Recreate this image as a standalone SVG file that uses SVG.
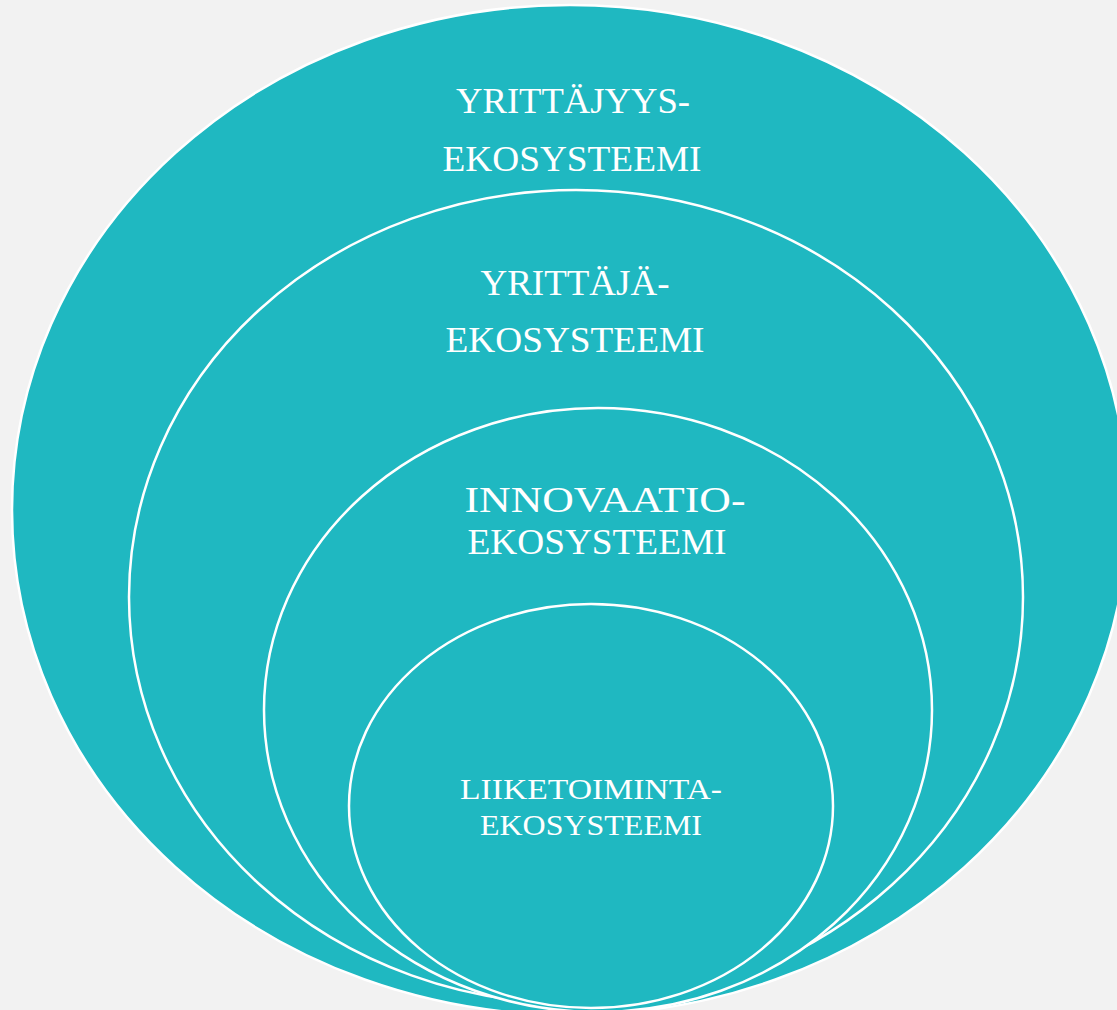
<svg xmlns="http://www.w3.org/2000/svg" width="1117" height="1010" viewBox="0 0 1117 1010">
<style>
.e{fill:#1fb8c1;stroke:#ffffff;stroke-width:2.5}
.t{fill:#ffffff;font-family:"Liberation Serif","DejaVu Serif",serif;text-anchor:middle}
.l{font-size:36px}
.s{font-size:30px}
</style>
<rect width="1117" height="1010" fill="#f2f2f2"/>
<g id="yrittajyys">
<ellipse class="e" cx="570" cy="510" rx="558" ry="505"/>
<text class="t l" x="573" y="113" textLength="234" lengthAdjust="spacingAndGlyphs">YRITTÄJYYS-</text>
<text class="t l" x="572" y="171" textLength="259" lengthAdjust="spacingAndGlyphs">EKOSYSTEEMI</text>
</g>
<g id="yrittaja">
<ellipse class="e" cx="576" cy="597" rx="447" ry="407"/>
<text class="t l" x="575" y="295" textLength="189" lengthAdjust="spacingAndGlyphs">YRITTÄJÄ-</text>
<text class="t l" x="575" y="352" textLength="259" lengthAdjust="spacingAndGlyphs">EKOSYSTEEMI</text>
</g>
<g id="innovaatio">
<ellipse class="e" cx="598" cy="710" rx="334" ry="302"/>
<text class="t l" x="605" y="512" textLength="281" lengthAdjust="spacingAndGlyphs">INNOVAATIO-</text>
<text class="t l" x="597" y="554" textLength="259" lengthAdjust="spacingAndGlyphs">EKOSYSTEEMI</text>
</g>
<g id="liiketoiminta">
<ellipse class="e" cx="591" cy="806" rx="242" ry="202"/>
<text class="t s" x="591" y="799" textLength="262" lengthAdjust="spacingAndGlyphs">LIIKETOIMINTA-</text>
<text class="t s" x="591" y="835" textLength="222" lengthAdjust="spacingAndGlyphs">EKOSYSTEEMI</text>
</g>
<g id="connectors"/>
</svg>
